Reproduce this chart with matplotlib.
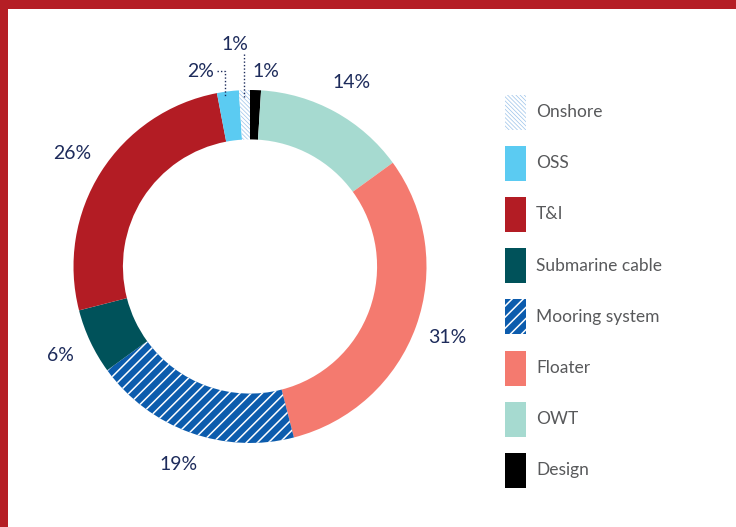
import numpy as np
import matplotlib
matplotlib.use("Agg")
import matplotlib.pyplot as plt
from matplotlib.patches import Rectangle

# Cost breakdown, clockwise from 12 o'clock
segments = ["Design", "OWT", "Floater", "Mooring system", "Submarine cable", "T&I", "OSS", "Onshore"]
shares = [1, 14, 31, 19, 6, 26, 2, 1]
colors = ["#000000", "#a6dad0", "#f47a6f", "#0c5cad", "#00525a", "#b31c24", "#5bcbf2", "#ffffff"]
hatches = [None, None, None, "///", None, None, None, "\\" * 8]
hatch_colors = [None, None, None, "#ffffff", None, None, None, "#9cc3ea"]
hatch_widths = [None, None, None, 1.1, None, None, None, 0.5]
legend_order = ["Onshore", "OSS", "T&I", "Submarine cable", "Mooring system", "Floater", "OWT", "Design"]

W, H = 736, 527
fig = plt.figure(figsize=(W / 100, H / 100), dpi=100)
fig.patch.set_facecolor("white")

label_color = "#1d2b5b"
legend_text_color = "#58595b"
font = "Lato"


def apply_hatch(patch, k):
    if not hatches[k]:
        return
    patch.set_hatch(hatches[k])
    patch.set_edgecolor(hatch_colors[k])
    patch.set_linewidth(0)
    try:
        patch.set_hatch_linewidth(hatch_widths[k])
    except AttributeError:
        pass


# Donut axes: centre (250, 266.5) px, outer radius 176.5 px
cx, cy, R = 250, 266.5, 176.5
ax = fig.add_axes([(cx - R) / W, (H - cy - R) / H, 2 * R / W, 2 * R / H])
wedges, _ = ax.pie(shares, colors=colors, startangle=90, counterclock=False,
                   wedgeprops=dict(width=0.28, linewidth=0))
ax.set_xlim(-1, 1)
ax.set_ylim(-1, 1)
ax.set_aspect("equal")
ax.axis("off")

for k, w in enumerate(wedges):
    apply_hatch(w, k)

# Percentage labels for larger segments at their mid angle
for w, name, val in zip(wedges, segments, shares):
    if val < 5:
        continue
    mid = np.deg2rad((w.theta1 + w.theta2) / 2)
    r = 1.19
    ax.text(r * np.cos(mid), r * np.sin(mid), f"{val}%", ha="center", va="center",
            fontsize=14, color=label_color, family=font, clip_on=False)

# Small segments: labels with dotted leaders
ax.text(0.091, 1.102, f"{shares[0]}%", ha="center", va="center", fontsize=14,
        color=label_color, family=font, clip_on=False)
ax.text(-0.278, 1.102, f"{shares[6]}%", ha="center", va="center", fontsize=14,
        color=label_color, family=font, clip_on=False)
ax.text(-0.085, 1.255, f"{shares[7]}%", ha="center", va="center", fontsize=14,
        color=label_color, family=font, clip_on=False)
ax.plot([-0.185, -0.142, -0.142], [1.108, 1.108, 0.96], ls=(0, (1, 1.5)),
        lw=1.0, color=label_color, clip_on=False)
ax.plot([-0.034, -0.034], [1.205, 0.955], ls=(0, (1, 1.5)),
        lw=1.0, color=label_color, clip_on=False)

# Legend drawn as swatches in figure pixels
lx, lw_, lh = 505, 21, 35
y0, dy = 112, 51.2
for i, name in enumerate(legend_order):
    k = segments.index(name)
    yc = y0 + i * dy
    rect = Rectangle((lx / W, (H - yc - lh / 2) / H), lw_ / W, lh / H,
                     transform=fig.transFigure, facecolor=colors[k],
                     edgecolor=colors[k], linewidth=0)
    apply_hatch(rect, k)
    fig.add_artist(rect)
    fig.text(536 / W, (H - yc) / H, name, ha="left", va="center", fontsize=12.5,
             color=legend_text_color, family=font)

# Red frame along the top and left edges
fig.add_artist(Rectangle((0, (H - 9) / H), 1, 9 / H, transform=fig.transFigure,
                         facecolor="#b51e25", linewidth=0))
fig.add_artist(Rectangle((0, 0), 8 / W, 1, transform=fig.transFigure,
                         facecolor="#b51e25", linewidth=0))

fig.savefig("out.png", dpi=100)
